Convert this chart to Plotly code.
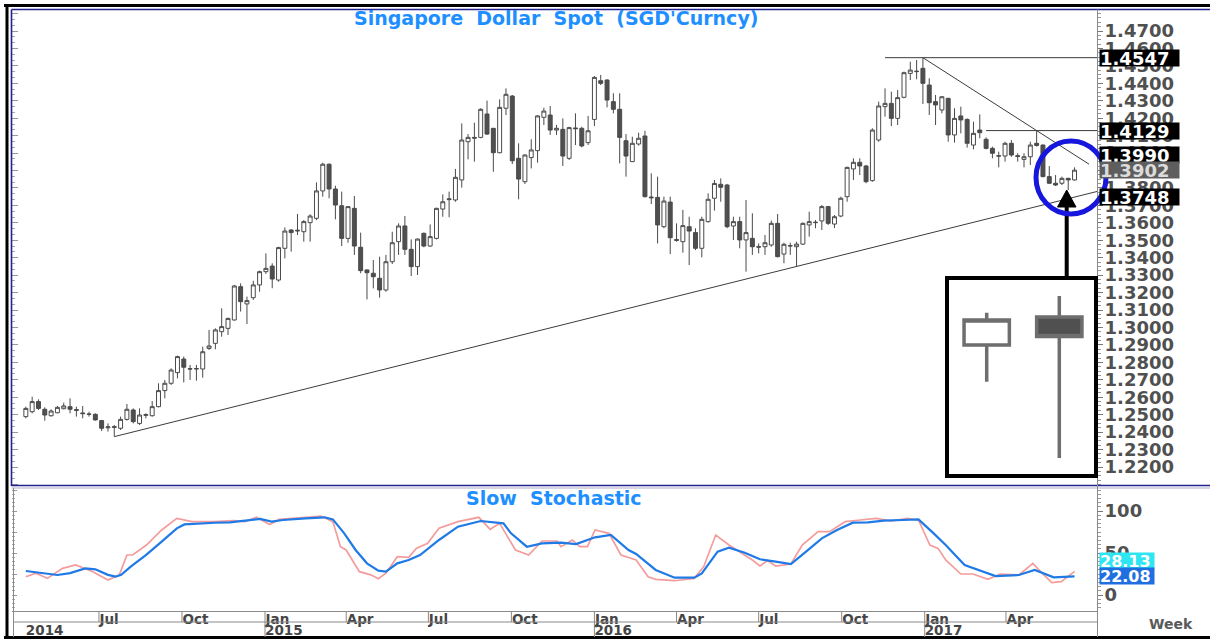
import pandas as pd
import plotly.graph_objects as go

W, H = 1210, 639

# ---------------- data ----------------
first_week = "2014-04-11"   # weekly bars (Fridays)

opens = [
    1.2489, 1.2517, 1.2575, 1.2531, 1.2494, 1.2511, 1.2534, 1.2546, 1.2529, 1.2510,
    1.2504, 1.2502, 1.2466, 1.2425, 1.2431, 1.2422, 1.2473, 1.2527, 1.2450, 1.2496,
    1.2494, 1.2546, 1.2638, 1.2680, 1.2741, 1.2819, 1.2764, 1.2762, 1.2762, 1.2880,
    1.2909, 1.2976, 1.2995, 1.3043, 1.3234, 1.3135, 1.3171, 1.3244, 1.3320, 1.3352,
    1.3272, 1.3454, 1.3559, 1.3553, 1.3549, 1.3601, 1.3626, 1.3783, 1.3936, 1.3794,
    1.3698, 1.3511, 1.3683, 1.3460, 1.3330, 1.3311, 1.3282, 1.3215, 1.3377, 1.3492,
    1.3582, 1.3448, 1.3349, 1.3540, 1.3467, 1.3511, 1.3679, 1.3733, 1.3731, 1.3846,
    1.4065, 1.4090, 1.4090, 1.4224, 1.4142, 1.4002, 1.4257, 1.4327, 1.3970, 1.3836,
    1.3974, 1.4014, 1.4205, 1.4218, 1.4132, 1.4136, 1.3970, 1.4144, 1.4142, 1.4060,
    1.4193, 1.4415, 1.4419, 1.4295, 1.4251, 1.4071, 1.3951, 1.4052, 1.4098, 1.3748,
    1.3746, 1.3578, 1.3719, 1.3504, 1.3492, 1.3578, 1.3544, 1.3454, 1.3607, 1.3741,
    1.3821, 1.3817, 1.3582, 1.3607, 1.3502, 1.3511, 1.3463, 1.3463, 1.3473, 1.3597,
    1.3421, 1.3467, 1.3463, 1.3478, 1.3588, 1.3601, 1.3611, 1.3693, 1.3593, 1.3639,
    1.3750, 1.3909, 1.3947, 1.3926, 1.3842, 1.4075, 1.4266, 1.4285, 1.4199, 1.4320,
    1.4457, 1.4467, 1.4486, 1.4390, 1.4295, 1.4247, 1.4314, 1.4104, 1.4213, 1.4193,
    1.4046, 1.4132, 1.4079, 1.4027, 1.3985, 1.3983, 1.4056, 1.3985, 1.3964, 1.3979,
    1.4056, 1.4046, 1.3865, 1.3827, 1.3827, 1.3855, 1.3846,
]
highs = [
    1.2546, 1.2603, 1.2588, 1.2542, 1.2531, 1.2550, 1.2569, 1.2594, 1.2546, 1.2550,
    1.2517, 1.2508, 1.2470, 1.2450, 1.2441, 1.2489, 1.2561, 1.2536, 1.2536, 1.2508,
    1.2578, 1.2680, 1.2699, 1.2766, 1.2838, 1.2833, 1.2785, 1.2785, 1.2890, 1.2986,
    1.2995, 1.3110, 1.3056, 1.3244, 1.3253, 1.3177, 1.3268, 1.3326, 1.3425, 1.3368,
    1.3463, 1.3574, 1.3563, 1.3651, 1.3616, 1.3649, 1.3832, 1.3945, 1.3941, 1.3813,
    1.3779, 1.3695, 1.3754, 1.3544, 1.3332, 1.3387, 1.3406, 1.3416, 1.3549, 1.3597,
    1.3639, 1.3505, 1.3510, 1.3544, 1.3591, 1.3687, 1.3763, 1.3779, 1.3909, 1.4170,
    1.4109, 1.4174, 1.4257, 1.4301, 1.4144, 1.4308, 1.4371, 1.4333, 1.4056, 1.3993,
    1.4079, 1.4218, 1.4260, 1.4270, 1.4161, 1.4199, 1.4151, 1.4228, 1.4151, 1.4213,
    1.4442, 1.4448, 1.4423, 1.4343, 1.4343, 1.4109, 1.4094, 1.4117, 1.4128, 1.3884,
    1.3865, 1.3750, 1.3750, 1.3597, 1.3674, 1.3635, 1.3569, 1.3635, 1.3769, 1.3846,
    1.3855, 1.3823, 1.3635, 1.3635, 1.3731, 1.3655, 1.3482, 1.3530, 1.3613, 1.3651,
    1.3486, 1.3486, 1.3492, 1.3603, 1.3664, 1.3616, 1.3702, 1.3697, 1.3645, 1.3750,
    1.3922, 1.3970, 1.3970, 1.3932, 1.4142, 1.4295, 1.4371, 1.4352, 1.4362, 1.4467,
    1.4524, 1.4534, 1.4547, 1.4429, 1.4333, 1.4327, 1.4316, 1.4257, 1.4266, 1.4199,
    1.4180, 1.4222, 1.4090, 1.4037, 1.4008, 1.4065, 1.4075, 1.3999, 1.3999, 1.4065,
    1.4129, 1.4050, 1.3926, 1.3874, 1.3865, 1.3859, 1.3918,
]
lows = [
    1.2479, 1.2508, 1.2527, 1.2466, 1.2489, 1.2508, 1.2531, 1.2508, 1.2489, 1.2479,
    1.2489, 1.2466, 1.2406, 1.2403, 1.2374, 1.2412, 1.2466, 1.2450, 1.2441, 1.2479,
    1.2489, 1.2542, 1.2594, 1.2670, 1.2708, 1.2685, 1.2699, 1.2695, 1.2712, 1.2871,
    1.2875, 1.2947, 1.2957, 1.3039, 1.3091, 1.3020, 1.3158, 1.3205, 1.3307, 1.3225,
    1.3263, 1.3396, 1.3435, 1.3530, 1.3492, 1.3492, 1.3616, 1.3750, 1.3741, 1.3620,
    1.3467, 1.3486, 1.3416, 1.3311, 1.3161, 1.3224, 1.3171, 1.3205, 1.3364, 1.3416,
    1.3416, 1.3295, 1.3301, 1.3460, 1.3463, 1.3505, 1.3635, 1.3632, 1.3721, 1.3802,
    1.3964, 1.3951, 1.4085, 1.4104, 1.3893, 1.3999, 1.4218, 1.3937, 1.3735, 1.3823,
    1.3912, 1.3945, 1.4161, 1.4104, 1.4104, 1.3926, 1.3960, 1.4046, 1.4033, 1.4046,
    1.4155, 1.4390, 1.4262, 1.4228, 1.3941, 1.3865, 1.3949, 1.4043, 1.3746, 1.3708,
    1.3482, 1.3569, 1.3421, 1.3492, 1.3429, 1.3358, 1.3444, 1.3402, 1.3601, 1.3670,
    1.3721, 1.3569, 1.3502, 1.3454, 1.3320, 1.3416, 1.3425, 1.3416, 1.3463, 1.3402,
    1.3368, 1.3416, 1.3350, 1.3473, 1.3521, 1.3569, 1.3559, 1.3588, 1.3570, 1.3632,
    1.3721, 1.3846, 1.3874, 1.3827, 1.3836, 1.4065, 1.4209, 1.4155, 1.4161, 1.4314,
    1.4419, 1.4423, 1.4281, 1.4218, 1.4161, 1.4228, 1.4065, 1.4060, 1.4113, 1.4031,
    1.4021, 1.4085, 1.4021, 1.3970, 1.3918, 1.3951, 1.3979, 1.3951, 1.3918, 1.3932,
    1.4037, 1.3861, 1.3823, 1.3811, 1.3817, 1.3788, 1.3842,
]
closes = [
    1.2536, 1.2575, 1.2536, 1.2498, 1.2521, 1.2542, 1.2550, 1.2531, 1.2525, 1.2506,
    1.2502, 1.2470, 1.2422, 1.2430, 1.2428, 1.2473, 1.2531, 1.2460, 1.2498, 1.2500,
    1.2546, 1.2638, 1.2680, 1.2756, 1.2833, 1.2772, 1.2762, 1.2764, 1.2861, 1.2894,
    1.2986, 1.3005, 1.3052, 1.3238, 1.3148, 1.3154, 1.3244, 1.3320, 1.3339, 1.3278,
    1.3458, 1.3553, 1.3544, 1.3557, 1.3607, 1.3639, 1.3783, 1.3936, 1.3794, 1.3702,
    1.3511, 1.3693, 1.3467, 1.3326, 1.3314, 1.3291, 1.3215, 1.3377, 1.3486, 1.3582,
    1.3448, 1.3349, 1.3507, 1.3467, 1.3521, 1.3683, 1.3721, 1.3737, 1.3861, 1.4075,
    1.4090, 1.4086, 1.4251, 1.4109, 1.4002, 1.4262, 1.4337, 1.3956, 1.3851, 1.3989,
    1.4018, 1.4213, 1.4241, 1.4132, 1.4142, 1.3983, 1.4146, 1.4140, 1.4041, 1.4128,
    1.4434, 1.4400, 1.4304, 1.4251, 1.4090, 1.3983, 1.4056, 1.4085, 1.3750, 1.3744,
    1.3588, 1.3725, 1.3515, 1.3500, 1.3584, 1.3553, 1.3454, 1.3620, 1.3735, 1.3826,
    1.3804, 1.3578, 1.3607, 1.3502, 1.3544, 1.3463, 1.3461, 1.3486, 1.3597, 1.3406,
    1.3477, 1.3469, 1.3478, 1.3597, 1.3607, 1.3603, 1.3693, 1.3597, 1.3635, 1.3741,
    1.3918, 1.3947, 1.3926, 1.3836, 1.4132, 1.4270, 1.4285, 1.4199, 1.4318, 1.4461,
    1.4476, 1.4469, 1.4400, 1.4289, 1.4276, 1.4323, 1.4104, 1.4199, 1.4190, 1.4056,
    1.4113, 1.4117, 1.4027, 1.3999, 1.3983, 1.4056, 1.3989, 1.3981, 1.3979, 1.4046,
    1.4044, 1.3865, 1.3827, 1.3817, 1.3855, 1.3846, 1.3902,
]

# slow stochastic, sampled along the curves (week index, value)
stoch_d_weeks = [0, 2, 5, 7, 9.4, 11, 13, 14.2, 15.1, 16.6, 19, 21.5, 23.9, 25.1, 27.5,
                 29.9, 32.3, 34.7, 37.1, 38.9, 40.7, 44.3, 47.3, 48.6, 50.4, 52.2, 54,
                 55.8, 57, 58.8, 60.6, 62.4, 65.4, 68.4, 72, 75.6, 76.8, 79.3, 81.7, 84.7,
                 87.1, 90.1, 92.6, 95.4, 96.6, 99.7, 102.7, 105.8, 107, 109.5, 111.3,
                 113.8, 116.2, 118.7, 121.1, 123.5, 126, 128.4, 130.9, 133.3, 135.8,
                 138.8, 141.3, 143.7, 145.6, 148.6, 151.7, 153.5, 157.2, 159.7, 162.7, 166]
stoch_d = [28.6, 27, 23.8, 26, 31.7, 30.6, 24, 21.8, 24, 33.7, 47.6, 63.5, 79.4, 84, 85.3,
           86, 86.5, 88.5, 90.5, 87.3, 89.3, 91.3, 92.5, 90, 73.4, 53.6, 37.7,
           29, 27.8, 37.7, 41.7, 47.6, 65.5, 81.3, 88.1, 85.3, 73.4, 57.5, 61.5, 62.3,
           60.7, 68.7, 71.4, 53.6, 48.8, 29.8, 20.6, 20.6, 25.8, 51.6, 56.3,
           50.4, 42.5, 39.7, 36.9, 51.6, 67.5, 77.4, 86.1, 86.5, 88.5,
           89.3, 90, 73.4, 59.5, 35.7, 27.8, 22.6, 23.8, 29.8, 21, 22.08]
stoch_k_weeks = [0, 1.6, 3.4, 5.8, 7.9, 10.6, 13.0, 14.8, 16.0, 16.9, 19.1, 21.5, 23.9,
                 26.3, 29.9, 32.9, 34.7, 36.5, 38.6, 40.1, 44.3, 46.7, 48.6, 49.8, 50.7,
                 52.8, 54.6, 55.8, 57.0, 58.8, 60.6, 61.8, 63.6, 65.4, 68.4, 71.7, 73.5,
                 75.0, 77.5, 79.6, 81.7, 84.1, 84.7, 86.5, 87.7, 88.9, 90.1, 92.3, 94.2,
                 96.6, 98.5, 99.7, 102.7, 105.8, 107.3, 109.2, 111.3, 113.1, 115, 116.2,
                 117.4, 118.7, 121.1, 122.9, 125.4, 127.2, 129.7, 132.1, 134.6, 137,
                 139.5, 141.3, 143.1, 144.4, 145.6, 148, 149.9, 152.3, 154.2, 157.2,
                 159.4, 160.9, 162.4, 163.9, 166]
stoch_k = [21.8, 26, 19.8, 31.7, 35.7, 27.8, 17.9, 24, 47.6, 47.6, 59.5, 77.4, 91.3,
           87.3, 87.3, 88.5, 87.3, 92.5, 84, 90, 92.5, 94, 87.3, 57.5, 53.6,
           27.8, 24, 19.4, 26, 45.6, 44.8, 55.5, 61.5, 79.4, 87.3, 92.5, 78.2,
           85.3, 53.6, 47.6, 64.3, 64.3, 57.5, 65.5, 57.5, 57.5, 77.4, 73.4, 47.6,
           41.7, 21.8, 18.6, 17, 19.8, 33.7, 71.4, 59.5, 50.4, 41.7, 34.5,
           40.9, 34.5, 36.9, 59.5, 75.4, 75.4, 87.3, 89.3, 91.3, 88.1,
           91.3, 89.3, 59.5, 55.5, 41.7, 25, 25, 18.6, 25, 23.8,
           37.7, 25.8, 14.7, 15.9, 28.13]

# trendline anchor bars
support_weeks = [14, 122]        # rising line through two weekly lows
resist_weeks = [142, 160]        # falling line through two weekly highs
peak_level_from = 136            # horizontal line at the high
mid_level_from = 152             # horizontal line at the 1.4129 high

price_ticks = [1.22, 1.23, 1.24, 1.25, 1.26, 1.27, 1.28, 1.29, 1.30, 1.31, 1.32, 1.33,
               1.34, 1.35, 1.36, 1.37, 1.38, 1.39, 1.40, 1.41, 1.42, 1.43, 1.44, 1.45,
               1.46, 1.47]
stoch_ticks = [0, 50, 100]
quarter_dates = ["2014-07-01", "2014-10-01", "2015-01-01", "2015-04-01", "2015-07-01",
                 "2015-10-01", "2016-01-01", "2016-04-01", "2016-07-01", "2016-10-01",
                 "2017-01-01", "2017-04-01"]
quarter_labels = ["Jul", "Oct", "Jan", "Apr", "Jul", "Oct", "Jan", "Apr", "Jul", "Oct",
                  "Jan", "Apr"]
year_dates = ["2015-01-01", "2016-01-01", "2017-01-01"]
year_labels = ["2015", "2016", "2017"]

# legend inset candles (hollow = close above open, filled = close below open)
inset_open = [66.2, 80.3]
inset_high = [82.5, 90.9]
inset_low = [47.6, 9.1]
inset_close = [78.8, 70.4]

# ---------------- helpers ----------------
def px_x(x):
    return x / W

def px_y(y):
    return 1 - y / H

t0 = pd.Timestamp(first_week)
dates = pd.date_range(first_week, periods=len(closes), freq="7D")

def week_date(w):
    return t0 + pd.to_timedelta(w * 7, unit="D")

def dstr(t):
    return pd.Timestamp(t).strftime("%Y-%m-%d %H:%M:%S")

day0 = pd.Timestamp("2015-01-01")
PX_PER_DAY = 0.9025
X_JAN15 = 265.0

def px_to_date(px):
    return day0 + pd.to_timedelta((px - X_JAN15) / PX_PER_DAY, unit="D")

x_range = [dstr(px_to_date(12)), dstr(px_to_date(1097))]

def price_at_px(y):
    return 1.47 - (y - 31) / 1744.0

def stoch_at_px(y):
    return (595 - y) / 0.84

AXIS_Y = 611      # bottom of the stochastic panel
ROW_Y = 622       # line between month row and year row
BOT_Y = 637

price_range = [price_at_px(486), price_at_px(10)]
stoch_range = [stoch_at_px(AXIS_Y), stoch_at_px(488)]

last = len(closes) - 1

# trendlines
s_p0, s_p1 = lows[support_weeks[0]], lows[support_weeks[1]]
s_slope = (s_p1 - s_p0) / (support_weeks[1] - support_weeks[0])
support_end_w = 170
support_x = [week_date(support_weeks[0]), week_date(support_end_w)]
support_y = [s_p0, s_p0 + s_slope * (support_end_w - support_weeks[0])]
support_last = s_p0 + s_slope * (last - support_weeks[0])

r_p0, r_p1 = highs[resist_weeks[0]], highs[resist_weeks[1]]
r_slope = (r_p1 - r_p0) / (resist_weeks[1] - resist_weeks[0])
resist_end_w = 168.3
resist_x = [week_date(resist_weeks[0]), week_date(resist_end_w)]
resist_y = [r_p0, r_p0 + r_slope * (resist_end_w - resist_weeks[0])]
resist_last = r_p0 + r_slope * (last - resist_weeks[0])

peak = max(highs)
mid_level = highs[resist_weeks[1]]

TXT = "DejaVu Sans"
GRAY_TXT = "#505050"
NAVY = "#22228f"
LINEGRAY = "#8a8a8a"

fig = go.Figure()

# main candles
fig.add_trace(go.Candlestick(
    x=dates, open=opens, high=highs, low=lows, close=closes,
    increasing=dict(line=dict(color="#4a4a4a", width=1), fillcolor="white"),
    decreasing=dict(line=dict(color="#4a4a4a", width=1), fillcolor="#4f4f4f"),
    whiskerwidth=0, xaxis="x", yaxis="y", showlegend=False, hoverinfo="skip",
))

# trend / level lines
for xs, ys in [
    (support_x, support_y),
    (resist_x, resist_y),
    ([week_date(peak_level_from), week_date(171)], [peak, peak]),
    ([week_date(mid_level_from), week_date(171)], [mid_level, mid_level]),
]:
    fig.add_trace(go.Scatter(x=xs, y=ys, mode="lines",
                             line=dict(color="#3c3c3c", width=1),
                             xaxis="x", yaxis="y", showlegend=False, hoverinfo="skip"))

# stochastic
fig.add_trace(go.Scatter(x=[week_date(w) for w in stoch_k_weeks], y=stoch_k, mode="lines",
                         line=dict(color="#f49c9c", width=1.7),
                         xaxis="x2", yaxis="y2", showlegend=False, hoverinfo="skip"))
fig.add_trace(go.Scatter(x=[week_date(w) for w in stoch_d_weeks], y=stoch_d, mode="lines",
                         line=dict(color="#1f7ae6", width=2.2),
                         xaxis="x2", yaxis="y2", showlegend=False, hoverinfo="skip"))

# dummy traces so that the extra tick-only axes are drawn
for xa, ya in [("x", "y3"), ("x2", "y4"), ("x3", "y2")]:
    fig.add_trace(go.Scatter(x=[dates[0]], y=[None], mode="lines", xaxis=xa, yaxis=ya,
                             showlegend=False, hoverinfo="skip"))

# inset legend candles
INSET_L, INSET_R, INSET_T, INSET_B = 949, 1094, 280, 474
IN_C0, IN_C1 = 986.7, 1059.3
in_unit = IN_C1 - IN_C0
inset_xrange = [(INSET_L - IN_C0) / in_unit, (INSET_R - IN_C0) / in_unit]
inset_yrange = [(476 - INSET_B) / 1.98, (476 - INSET_T) / 1.98]
fig.add_trace(go.Candlestick(
    x=[0, 1], open=inset_open, high=inset_high, low=inset_low, close=inset_close,
    increasing=dict(line=dict(color="#6e6e6e", width=3.5), fillcolor="white"),
    decreasing=dict(line=dict(color="#6e6e6e", width=3.5), fillcolor="#505050"),
    whiskerwidth=0, xaxis="x4", yaxis="y5", showlegend=False, hoverinfo="skip",
))

tickfont = dict(family=TXT, size=18, color=GRAY_TXT, weight="bold")
datefont = dict(family=TXT, size=13.5, color="#454545", weight="bold")

fig.update_layout(
    width=W, height=H, margin=dict(l=0, r=0, t=0, b=0),
    paper_bgcolor="white", plot_bgcolor="white", showlegend=False,
    boxgap=0.21, boxgroupgap=0.21,
    xaxis=dict(domain=[px_x(12), px_x(1097)], range=x_range, anchor="y",
               showticklabels=False, ticks="", showgrid=False, zeroline=False,
               showline=False, rangeslider=dict(visible=False), fixedrange=True),
    yaxis=dict(domain=[px_y(486), px_y(10)], range=price_range, anchor="x", side="right",
               tickmode="array", tickvals=price_ticks,
               ticktext=[f"{v:.4f}" for v in price_ticks],
               ticks="outside", ticklen=5, tickcolor="#777", tickfont=tickfont,
               ticklabelstandoff=-2,
               minor=dict(dtick=0.0025, ticklen=3, ticks="outside", tickcolor="#999"),
               showgrid=False, zeroline=False, showline=False, fixedrange=True),
    yaxis3=dict(overlaying="y", anchor="x", side="left", range=price_range,
                showticklabels=False, tick0=1.22, dtick=0.01, ticks="inside", ticklen=6,
                tickcolor="#999",
                minor=dict(dtick=0.01 / 3, ticklen=3, ticks="inside", tickcolor="#aaa"),
                showgrid=False, zeroline=False, showline=False, fixedrange=True),
    xaxis2=dict(domain=[px_x(12), px_x(1097)], range=x_range, anchor="y2", matches="x",
                tickmode="array", tickvals=quarter_dates, ticktext=quarter_labels,
                ticks="", ticklabelposition="outside right", ticklabelstandoff=-4,
                tickfont=datefont, showgrid=False, zeroline=False,
                showline=True, linecolor=LINEGRAY, linewidth=1, fixedrange=True),
    xaxis3=dict(overlaying="x2", anchor="free", position=px_y(ROW_Y), range=x_range,
                tickmode="array", tickvals=[dstr(dates[0])] + year_dates,
                ticktext=["2014"] + year_labels,
                ticks="", ticklabelposition="outside right", ticklabelstandoff=-2,
                tickfont=datefont, showgrid=False, zeroline=False, showline=False,
                fixedrange=True),
    yaxis2=dict(domain=[px_y(AXIS_Y), px_y(488)], range=stoch_range, anchor="x2",
                side="right",
                tickmode="array", tickvals=stoch_ticks, ticks="outside", ticklen=5,
                tickcolor="#777", tickfont=tickfont, ticklabelstandoff=-2,
                minor=dict(dtick=5, ticklen=3, ticks="outside", tickcolor="#999"),
                showgrid=False, zeroline=False, showline=False, fixedrange=True),
    yaxis4=dict(overlaying="y2", anchor="x2", side="left", range=stoch_range,
                showticklabels=False, tick0=0, dtick=25, ticks="inside", ticklen=5,
                tickcolor="#999",
                minor=dict(dtick=5, ticklen=3, ticks="inside", tickcolor="#aaa"),
                showgrid=False, zeroline=False, showline=False, fixedrange=True),
    xaxis4=dict(domain=[px_x(INSET_L), px_x(INSET_R)], range=inset_xrange, anchor="y5",
                visible=False, rangeslider=dict(visible=False), fixedrange=True),
    yaxis5=dict(domain=[px_y(INSET_B), px_y(INSET_T)], range=inset_yrange, anchor="x4",
                visible=False, fixedrange=True),
)

shapes = []

def pline(x0, y0, x1, y1, color, width):
    shapes.append(dict(type="line", xref="paper", yref="paper",
                       x0=px_x(x0), y0=px_y(y0), x1=px_x(x1), y1=px_y(y1),
                       line=dict(color=color, width=width), layer="above"))

# outer frame
pline(4, 5.5, 1210, 5.5, "black", 3)
pline(7, 4, 7, 639, "black", 3)
pline(4, 637.5, 1210, 637.5, "black", 3)
# navy panel borders
pline(11.5, 9.5, 1210, 9.5, NAVY, 1.6)
pline(11.5, 9.5, 11.5, 486, NAVY, 1.6)
pline(11.5, 485.5, 1210, 485.5, NAVY, 1.6)
pline(11.5, 488, 1210, 488, "#b0b0c8", 1)
# lower panel and date rows
pline(13.5, 488, 13.5, BOT_Y, LINEGRAY, 1)
pline(1097.5, 9.5, 1097.5, BOT_Y, LINEGRAY, 1)
pline(13.5, ROW_Y, 1097.5, ROW_Y, LINEGRAY, 1)

# date separators at the quarter ticks
for d in quarter_dates:
    y_end = BOT_Y if d in year_dates else ROW_Y
    shapes.append(dict(type="line", xref="x2", yref="paper", x0=d, x1=d,
                       y0=px_y(AXIS_Y), y1=px_y(y_end),
                       line=dict(color=LINEGRAY, width=1), layer="above"))

# inset box
shapes.append(dict(type="rect", xref="paper", yref="paper",
                   x0=px_x(947), x1=px_x(1096), y0=px_y(476), y1=px_y(278),
                   line=dict(color="black", width=4), fillcolor="rgba(0,0,0,0)",
                   layer="above"))
# arrow from inset to highlighted candles
pline(1066.7, 278, 1066.7, 204, "black", 4)
shapes.append(dict(type="path", xref="paper", yref="paper",
                   path=(f"M {px_x(1066.7)},{px_y(190)} L {px_x(1057.5)},{px_y(207)} "
                         f"L {px_x(1076)},{px_y(207)} Z"),
                   fillcolor="black", line=dict(color="black", width=1), layer="above"))
# blue circle
shapes.append(dict(type="circle", xref="paper", yref="paper",
                   x0=px_x(1036), x1=px_x(1106), y0=px_y(214), y1=px_y(141),
                   line=dict(color="#1616dc", width=5), layer="above"))

fig.update_layout(shapes=shapes)

ann = []
ann.append(dict(text="Singapore\u00a0\u00a0Dollar\u00a0\u00a0Spot\u00a0\u00a0(SGD'Curncy)",
                xref="paper", yref="paper", x=px_x(556), y=px_y(18.5),
                xanchor="center", yanchor="middle", showarrow=False,
                font=dict(family=TXT, size=19, color="#1e8fff", weight="bold")))
ann.append(dict(text="Slow\u00a0\u00a0Stochastic", xref="paper", yref="paper",
                x=px_x(554), y=px_y(497.5), xanchor="center", yanchor="middle",
                showarrow=False,
                font=dict(family=TXT, size=19, color="#1e8fff", weight="bold")))
ann.append(dict(text="Week", xref="paper", yref="paper", x=px_x(1171), y=px_y(624),
                xanchor="center", yanchor="middle", showarrow=False,
                font=dict(family=TXT, size=14, color="#5a5a5a", weight="bold")))

def value_box(val, yref, bg, fg, yshift=0, width=79, size=18):
    return dict(text=f"{val:.4f}" if yref == "y" else f"{val:.2f}",
                xref="paper", yref=yref, x=px_x(1099), y=val, yshift=yshift,
                xanchor="left", yanchor="middle", showarrow=False,
                bgcolor=bg, borderpad=0, width=width, height=16, align="left",
                font=dict(family=TXT, size=size, color=fg, weight="bold"))

ann.append(value_box(peak, "y", "black", "white"))
ann.append(value_box(mid_level, "y", "black", "white"))
ann.append(value_box(resist_last, "y", "black", "white"))
ann.append(value_box(closes[-1], "y", "#5e5e5e", "#dcdcdc"))
ann.append(value_box(support_last, "y", "black", "white"))
ann.append(value_box(stoch_k[-1], "y2", "#2ee6f2", "white", yshift=10, width=54, size=16))
ann.append(value_box(stoch_d[-1], "y2", "#1f6fe0", "white", width=54, size=16))

fig.update_layout(annotations=ann)

# the page's default body margin would offset the whole figure by 8px
fig.write_html("out.html", config={"displayModeBar": False},
               post_script="document.body.style.margin='0px';document.body.style.overflow='hidden';")
